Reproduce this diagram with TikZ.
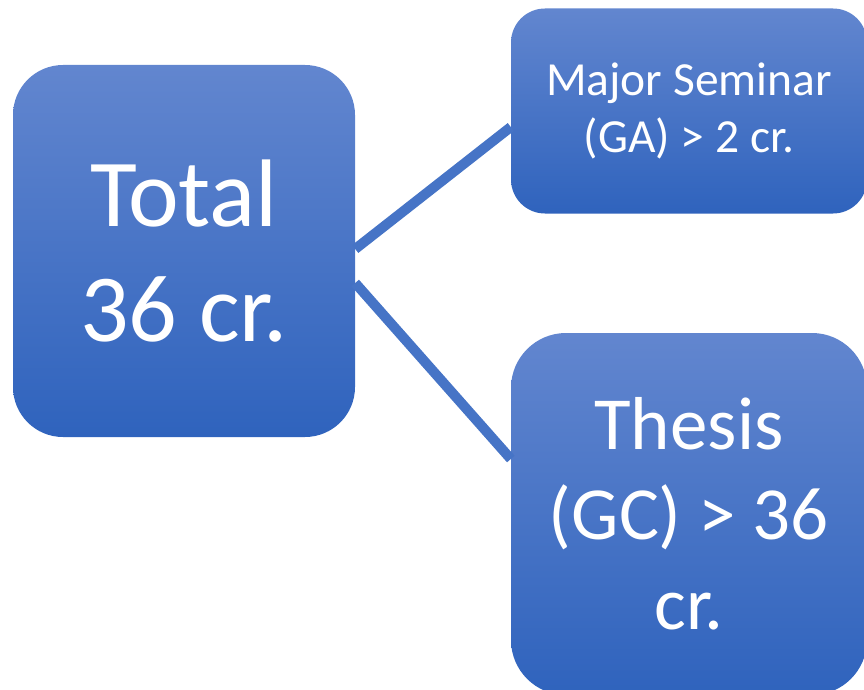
\documentclass[tikz,border=0pt]{standalone}
\usepackage{fontspec}
\setmainfont{Carlito}
\definecolor{boxtop}{RGB}{98,134,207}
\definecolor{boxbot}{RGB}{47,99,189}
\definecolor{linkblue}{RGB}{70,116,198}
\begin{document}
\begin{tikzpicture}[x=1pt,y=-1pt,
  box/.style={draw=none,top color=boxtop,bottom color=boxbot,text=white,align=center,inner sep=0pt},
  link/.style={draw=linkblue,line width=10pt}]
\useasboundingbox (0,0) rectangle (864,690);
\begin{scope}
\clip (0,0) rectangle (864,690);
\node[box,rounded corners=50pt,minimum width=342pt,minimum height=372pt,font=\fontsize{96}{115}\selectfont] (total) at (184,251) {Total\\36 cr.};
\node[box,rounded corners=34pt,minimum width=356pt,minimum height=205pt,font=\fontsize{47.5}{57}\selectfont] (major) at (689,111) {Major Seminar\\(GA) > 2 cr.};
\node[box,rounded corners=55pt,minimum width=356pt,minimum height=362pt,font=\fontsize{75}{90}\selectfont] (thesis) at (689,514) {Thesis\\(GC) > 36\\cr.};
\end{scope}
\draw[link] ([yshift=2pt]total.east) -- ([yshift=-16pt]major.west);
\draw[link] ([yshift=-32pt]total.east) -- ([yshift=55pt]thesis.west);
\end{tikzpicture}
\end{document}
